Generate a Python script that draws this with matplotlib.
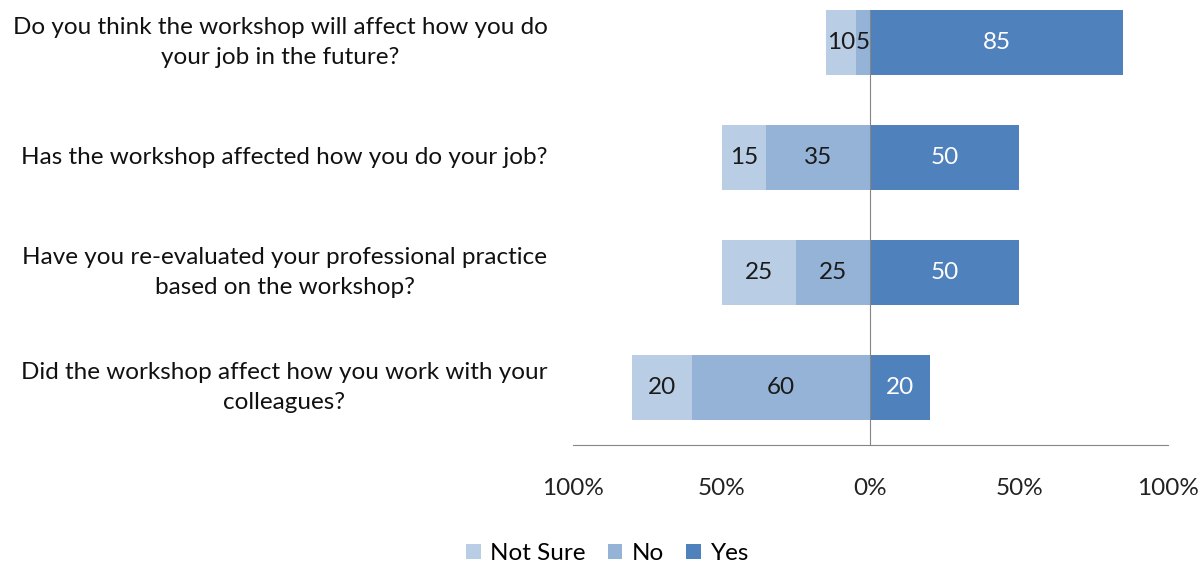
import matplotlib.pyplot as plt
import numpy as np

plt.rcParams['font.family'] = ['Lato', 'DejaVu Sans']

questions = [
    'Do you think the workshop will affect how you do\nyour job in the future?',
    'Has the workshop affected how you do your job?',
    'Have you re-evaluated your professional practice\nbased on the workshop?',
    'Did the workshop affect how you work with your\ncolleagues?',
]
not_sure = [10, 15, 25, 20]
no = [5, 35, 25, 60]
yes = [85, 50, 50, 20]
tick_values = [-100, -50, 0, 50, 100]
tick_labels = ['100%', '50%', '0%', '50%', '100%']

COLORS = {
    'Not Sure': '#B9CDE5',
    'No': '#95B3D7',
    'Yes': '#4F81BD',
}
BAR_HEIGHT = 0.57
FS = 17.5

fig = plt.figure(figsize=(12.03, 5.64), dpi=100)
ax = fig.add_axes([0.4763, 0.211, 0.4946, 0.789])

y = np.arange(len(questions))
no_arr = np.array(no)
ns_arr = np.array(not_sure)

# negative side: "No" next to zero, "Not Sure" further out
bars_ns = ax.barh(y, -ns_arr, left=-no_arr, height=BAR_HEIGHT,
                  color=COLORS['Not Sure'], label='Not Sure')
bars_no = ax.barh(y, -no_arr, height=BAR_HEIGHT, color=COLORS['No'], label='No')
bars_yes = ax.barh(y, yes, height=BAR_HEIGHT, color=COLORS['Yes'], label='Yes')

for bars, vals, col in [(bars_ns, not_sure, '#1a1a1a'),
                        (bars_no, no, '#1a1a1a'),
                        (bars_yes, yes, 'white')]:
    for rect, v in zip(bars, vals):
        cx = rect.get_x() + rect.get_width() / 2
        cy = rect.get_y() + rect.get_height() / 2
        ax.text(cx, cy, f'{v}', ha='center', va='center', fontsize=FS, color=col)

ax.set_xlim(-100, 100)
ax.set_ylim(len(questions) - 0.5, -0.37)

ax.set_xticks(tick_values)
ax.set_xticklabels(tick_labels, fontsize=FS, color='#222222')
ax.tick_params(axis='x', length=0, pad=24)

ax.set_yticks([])
for yi, q in zip(y, questions):
    ax.text(-0.043, yi, q, transform=ax.get_yaxis_transform(), ha='right', va='center',
            multialignment='center', fontsize=FS, color='#111111', linespacing=1.5)

for side in ['top', 'right']:
    ax.spines[side].set_visible(False)
ax.spines['bottom'].set_color('#868686')
ax.spines['left'].set_color('#868686')
ax.spines['left'].set_position(('data', 0))
ax.spines['left'].set_bounds(len(questions) - 0.5, -BAR_HEIGHT / 2)

fig.legend(loc='center', bbox_to_anchor=(0.505, 0.018), ncol=3, frameon=False,
           fontsize=FS, handlelength=0.6, handleheight=0.6, handletextpad=0.4,
           columnspacing=0.9)

fig.savefig('out.png', dpi=100)
